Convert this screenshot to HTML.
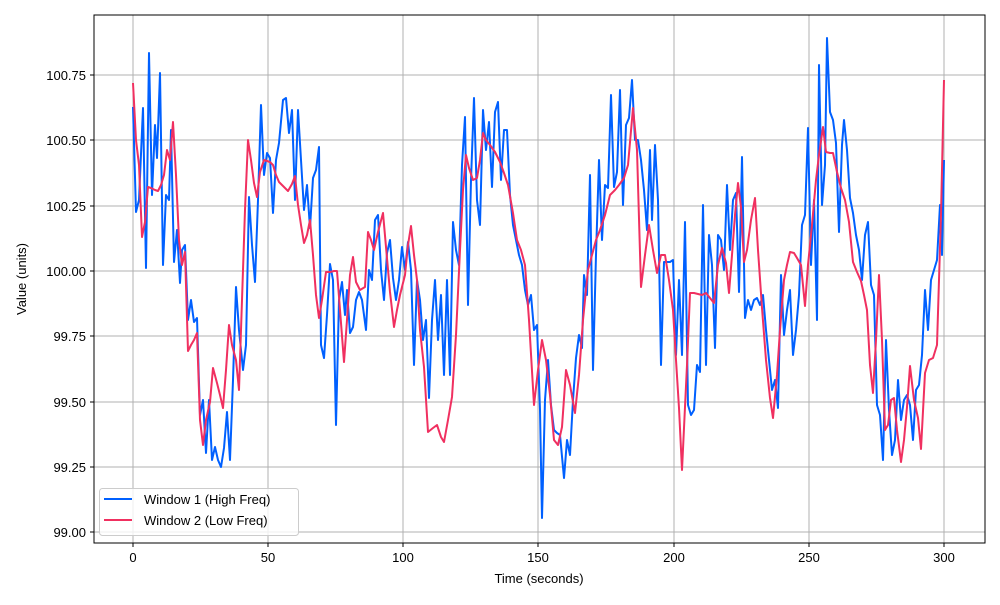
<!DOCTYPE html>
<html><head><meta charset="utf-8"><style>
body{margin:0;background:#fff}
svg text{font-family:"Liberation Sans","DejaVu Sans",sans-serif;font-size:13px;fill:#000}
</style></head><body>
<svg width="1000" height="600" viewBox="0 0 1000 600">
<rect width="1000" height="600" fill="#fff"/>
<g stroke="#b0b0b0" stroke-width="1">
<line x1="133" y1="15" x2="133" y2="543"/><line x1="268" y1="15" x2="268" y2="543"/><line x1="403" y1="15" x2="403" y2="543"/><line x1="538" y1="15" x2="538" y2="543"/><line x1="674" y1="15" x2="674" y2="543"/><line x1="809" y1="15" x2="809" y2="543"/><line x1="944" y1="15" x2="944" y2="543"/>
<line x1="94" y1="75" x2="985" y2="75"/><line x1="94" y1="140" x2="985" y2="140"/><line x1="94" y1="206" x2="985" y2="206"/><line x1="94" y1="271" x2="985" y2="271"/><line x1="94" y1="336" x2="985" y2="336"/><line x1="94" y1="402" x2="985" y2="402"/><line x1="94" y1="467" x2="985" y2="467"/><line x1="94" y1="532" x2="985" y2="532"/>
</g>
<polyline fill="none" stroke="#0060ff" stroke-width="2" stroke-linejoin="round" points="133,107 136,212 139,200 143,108 146,268 149,53 152,195 155,125 157,158 160,73 163,265 166,195 169,200 171,130 174,262 177,230 180,283 182,250 185,245 188,320 191,300 194,322 197,318 200,415 203,400 206,453 209,400 212,460 215,447 218,460 221,467 224,448 227,412 230,460 233,380 236,287 239,330 243,370 246,345 249,197 252,245 255,282 258,200 261,105 264,175 267,153 270,158 273,213 276,160 279,143 283,100 286,98 289,133 292,110 295,200 298,110 301,160 304,210 307,185 310,228 313,178 316,170 319,147 321,345 324,358 327,315 330,264 333,280 336,425 339,300 342,282 345,315 347,290 350,333 353,327 356,300 359,292 362,300 366,330 369,270 372,280 375,220 378,215 381,270 384,300 387,253 390,240 393,278 396,300 399,280 402,247 405,270 408,242 411,270 414,365 417,280 420,300 423,340 426,320 429,398 432,320 435,280 438,340 441,295 444,375 447,280 450,375 453,222 456,250 459,265 462,165 465,117 468,305 471,180 474,98 477,200 480,225 483,110 486,150 489,122 492,187 495,112 498,102 501,180 504,130 507,130 510,195 513,225 516,240 519,255 522,265 525,290 528,305 531,295 534,330 537,325 540,410 542,518 545,400 548,360 551,405 554,430 557,433 560,435 564,478 567,440 570,455 573,400 576,358 579,335 582,348 584,275 587,295 590,175 593,370 596,255 599,160 602,240 605,185 608,188 611,95 614,187 617,172 620,90 623,205 626,125 629,118 632,80 635,140 638,140 641,160 644,190 647,230 650,150 652,220 655,145 658,200 661,365 664,262 667,262 670,262 673,260 676,355 679,280 682,355 685,222 688,405 691,415 694,410 697,365 700,372 703,205 706,365 709,235 712,265 715,348 718,235 721,240 724,270 727,185 730,250 733,200 736,193 739,292 742,157 745,318 748,300 751,310 754,300 757,298 760,305 763,295 766,330 769,360 772,390 775,380 778,408 781,275 784,335 787,310 790,290 793,355 796,330 799,295 802,225 805,215 808,128 811,265 814,200 817,320 819,65 822,205 825,165 827,38 830,112 833,120 836,143 839,232 842,145 844,120 847,150 850,198 853,213 856,235 859,250 862,280 865,235 868,222 871,285 874,295 877,405 880,415 883,460 886,340 889,410 892,455 895,440 898,380 901,420 904,400 907,395 910,405 913,440 916,390 919,385 922,355 925,290 928,330 931,280 934,270 937,260 940,205 942,255 944,160"/>
<polyline fill="none" stroke="#f03060" stroke-width="2" stroke-linejoin="round" points="133,83 136,140 139,165 142,237 145,222 148,187 151,188 155,190 158,191 161,185 164,175 167,150 170,160 173,122 176,175 179,240 182,265 185,252 188,351 191,345 194,340 197,333 200,420 203,445 206,420 210,402 213,368 217,383 220,395 223,408 226,370 229,325 232,345 236,360 239,390 242,300 245,210 248,140 251,160 254,183 257,197 260,172 264,160 267,161 270,162 273,165 276,175 279,182 283,186 288,191 292,184 295,176 298,205 301,225 304,243 307,235 310,220 313,255 316,295 319,318 322,300 326,272 330,272 334,271 337,271 340,310 344,362 347,320 350,275 353,257 356,282 360,290 365,287 368,232 371,240 374,250 378,232 383,213 386,247 390,292 394,327 397,310 400,295 405,275 408,245 411,226 414,255 417,280 420,330 424,367 428,432 433,428 437,425 441,437 444,442 448,420 452,397 456,335 460,250 463,190 466,155 469,168 473,180 477,178 480,160 483,133 486,140 490,145 495,152 500,162 504,173 508,185 513,213 517,240 521,250 525,265 529,320 534,405 538,370 542,340 546,360 550,395 554,440 558,445 562,427 566,370 570,385 575,413 579,375 583,320 588,270 592,255 596,240 600,230 605,215 610,195 615,190 619,185 624,178 628,165 633,108 637,150 641,287 645,255 649,225 653,250 657,273 661,255 665,255 669,280 673,310 676,360 679,408 682,470 687,365 690,293 694,293 698,294 702,295 706,293 710,298 714,303 718,265 722,248 726,263 729,293 732,255 735,215 738,183 741,207 744,262 747,250 751,220 755,198 758,250 762,308 766,360 770,398 773,418 777,375 780,330 784,280 787,265 790,252 794,253 797,258 801,265 805,306 808,265 812,225 816,180 819,155 823,127 826,152 830,153 833,153 837,172 841,188 845,200 849,222 853,262 857,272 861,281 864,295 867,310 870,365 873,393 876,340 879,275 882,340 885,430 888,425 891,400 894,398 897,430 901,462 904,440 907,407 910,366 914,400 918,418 921,449 925,373 929,360 933,358 937,345 941,215 944,80"/>
<rect x="94" y="15" width="891" height="528" fill="none" stroke="#000" stroke-width="1"/>
<g stroke="#000" stroke-width="1">
<line x1="133" y1="543" x2="133" y2="547"/><line x1="268" y1="543" x2="268" y2="547"/><line x1="403" y1="543" x2="403" y2="547"/><line x1="538" y1="543" x2="538" y2="547"/><line x1="674" y1="543" x2="674" y2="547"/><line x1="809" y1="543" x2="809" y2="547"/><line x1="944" y1="543" x2="944" y2="547"/>
<line x1="90" y1="75" x2="94" y2="75"/><line x1="90" y1="140" x2="94" y2="140"/><line x1="90" y1="206" x2="94" y2="206"/><line x1="90" y1="271" x2="94" y2="271"/><line x1="90" y1="336" x2="94" y2="336"/><line x1="90" y1="402" x2="94" y2="402"/><line x1="90" y1="467" x2="94" y2="467"/><line x1="90" y1="532" x2="94" y2="532"/>
</g>
<g text-anchor="middle">
<text x="133" y="562">0</text><text x="268" y="562">50</text><text x="403" y="562">100</text><text x="538" y="562">150</text><text x="674" y="562">200</text><text x="809" y="562">250</text><text x="944" y="562">300</text>
<text x="539" y="583">Time (seconds)</text>
</g>
<g text-anchor="end">
<text x="86" y="80">100.75</text><text x="86" y="145">100.50</text><text x="86" y="211">100.25</text><text x="86" y="276">100.00</text><text x="86" y="341">99.75</text><text x="86" y="407">99.50</text><text x="86" y="472">99.25</text><text x="86" y="537">99.00</text>
</g>
<text transform="translate(26,279) rotate(-90)" text-anchor="middle">Value (units)</text>
<rect x="99.5" y="488.5" width="199" height="47" rx="3" fill="#fff" fill-opacity="0.8" stroke="#ccc"/>
<line x1="104" y1="499" x2="132" y2="499" stroke="#0060ff" stroke-width="2"/>
<text x="144" y="504">Window 1 (High Freq)</text>
<line x1="104" y1="520" x2="132" y2="520" stroke="#f03060" stroke-width="2"/>
<text x="144" y="525">Window 2 (Low Freq)</text>
</svg>
</body></html>
